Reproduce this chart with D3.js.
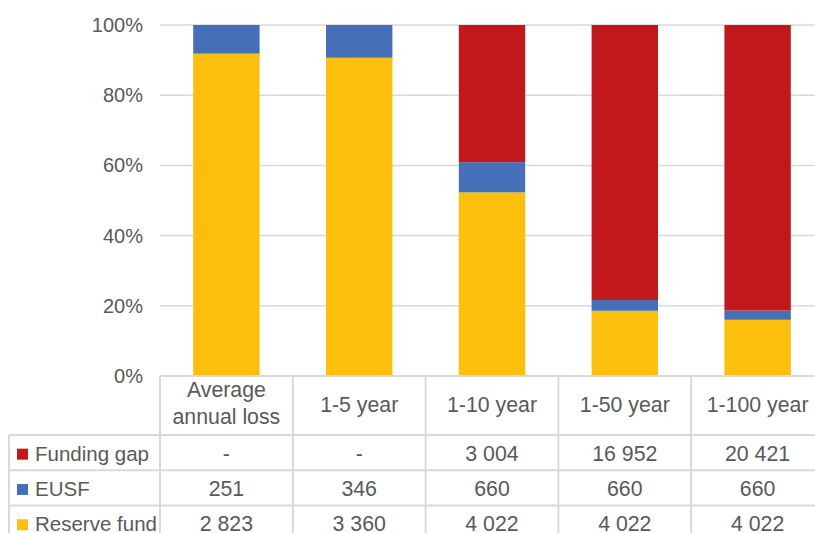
<!DOCTYPE html>
<html><head><meta charset="utf-8">
<script src="https://cdn.jsdelivr.net/npm/d3@7"></script>
<style>body{margin:0;background:#fff;} text{font-family:"Liberation Sans",Arial,sans-serif;fill:#595959;}</style>
</head><body>
<svg id="c" width="815" height="533"></svg>
<script>
const categories = [["Average","annual loss"],["1-5 year"],["1-10 year"],["1-50 year"],["1-100 year"]];
const seriesNames = ["Funding gap","EUSF","Reserve fund"];
const fundingGap = [0, 0, 3004, 16952, 20421];
const eusf = [251, 346, 660, 660, 660];
const reserveFund = [2823, 3360, 4022, 4022, 4022];
const fundingGapLabels = ["-","-","3 004","16 952","20 421"];
const eusfLabels = ["251","346","660","660","660"];
const reserveLabels = ["2 823","3 360","4 022","4 022","4 022"];
const yTicks = [0,0.2,0.4,0.6,0.8,1.0];
const colors = {"Funding gap":"#C1191B","EUSF":"#4570B8","Reserve fund":"#FCBF0E"};

(function(){
const svg = d3.select("#c");
const plotLeft = 160, bandW = 132.8, plotTop = 25, plotBottom = 376, tableLeft = 9;
const fs = 21.3;
const x = d3.scaleBand().domain(d3.range(categories.length)).range([plotLeft, plotLeft + bandW*categories.length]).paddingInner(0.5).paddingOuter(0.25);
const y = d3.scaleLinear().domain([0,1]).range([plotBottom, plotTop]);

svg.append("g").selectAll("line").data(yTicks.slice(1)).join("line")
  .attr("x1", plotLeft).attr("x2", 815).attr("y1", d=>y(d)).attr("y2", d=>y(d))
  .attr("stroke", "#d9d9d9").attr("stroke-width", 1.5);

const yAxis = d3.axisLeft(y).tickValues(yTicks).tickFormat(d3.format(".0%")).tickSize(0).tickPadding(0);
const ga = svg.append("g").attr("transform", `translate(143,0)`).call(yAxis);
ga.select(".domain").remove();
ga.selectAll("text").attr("font-size", 20).attr("fill", "#595959").attr("font-family", "Liberation Sans, Arial, sans-serif");

const rows = categories.map((c,i)=>({i, "Reserve fund": reserveFund[i], "EUSF": eusf[i], "Funding gap": fundingGap[i]}));
const normRows = rows.map(r=>{const t=r["Reserve fund"]+r["EUSF"]+r["Funding gap"]; return {i:r.i, "Reserve fund":r["Reserve fund"]/t, "EUSF":r["EUSF"]/t, "Funding gap":r["Funding gap"]/t};});
const stack = d3.stack().keys(["Reserve fund","EUSF","Funding gap"]);
const layers = stack(normRows);
svg.append("g").selectAll("g").data(layers).join("g").attr("fill", d=>colors[d.key])
  .selectAll("rect").data(d=>d).join("rect")
  .attr("x", d=>x(d.data.i)).attr("width", x.bandwidth())
  .attr("y", d=>y(d[1])).attr("height", d=>y(d[0])-y(d[1]));

const rowH = 35.3, headerBottom = 435;
const g = svg.append("g");
const lineColor = "#d9d9d9";
const colEdges = d3.range(categories.length+1).map(k=>plotLeft + k*bandW);
g.append("line").attr("x1", plotLeft).attr("x2", 815).attr("y1", plotBottom).attr("y2", plotBottom).attr("stroke", lineColor).attr("stroke-width", 2);
[0,1,2].forEach(k=>{
  g.append("line").attr("x1", tableLeft).attr("x2", 815).attr("y1", headerBottom + k*rowH).attr("y2", headerBottom + k*rowH).attr("stroke", lineColor).attr("stroke-width", 2);
});
colEdges.forEach(xx=>{
  g.append("line").attr("x1", xx).attr("x2", xx).attr("y1", plotBottom).attr("y2", 533).attr("stroke", lineColor).attr("stroke-width", 2);
});
g.append("line").attr("x1", tableLeft).attr("x2", tableLeft).attr("y1", headerBottom).attr("y2", 533).attr("stroke", lineColor).attr("stroke-width", 2);

categories.forEach((c,i)=>{
  const cx = x(i) + x.bandwidth()/2;
  const t = g.append("text").attr("text-anchor","middle").attr("font-size", fs).attr("x", cx);
  if (c.length === 2) {
    t.append("tspan").attr("x", cx).attr("y", 397).text(c[0]);
    t.append("tspan").attr("x", cx).attr("y", 424).text(c[1]);
  } else {
    t.attr("y", 412).text(c[0]);
  }
});
const labelRows = [fundingGapLabels, eusfLabels, reserveLabels];
seriesNames.forEach((name, r)=>{
  const cy = headerBottom + r*rowH + rowH/2;
  g.append("rect").attr("x", 17).attr("y", cy-4).attr("width", 11).attr("height", 11).attr("fill", colors[name]);
  g.append("text").attr("x", 35).attr("y", cy+8).attr("font-size", 20.5).text(name);
  labelRows[r].forEach((lab, i)=>{
    g.append("text").attr("x", x(i)+x.bandwidth()/2).attr("y", cy+8).attr("text-anchor","middle").attr("font-size", fs).text(lab);
  });
});
})();
</script>
</body></html>
